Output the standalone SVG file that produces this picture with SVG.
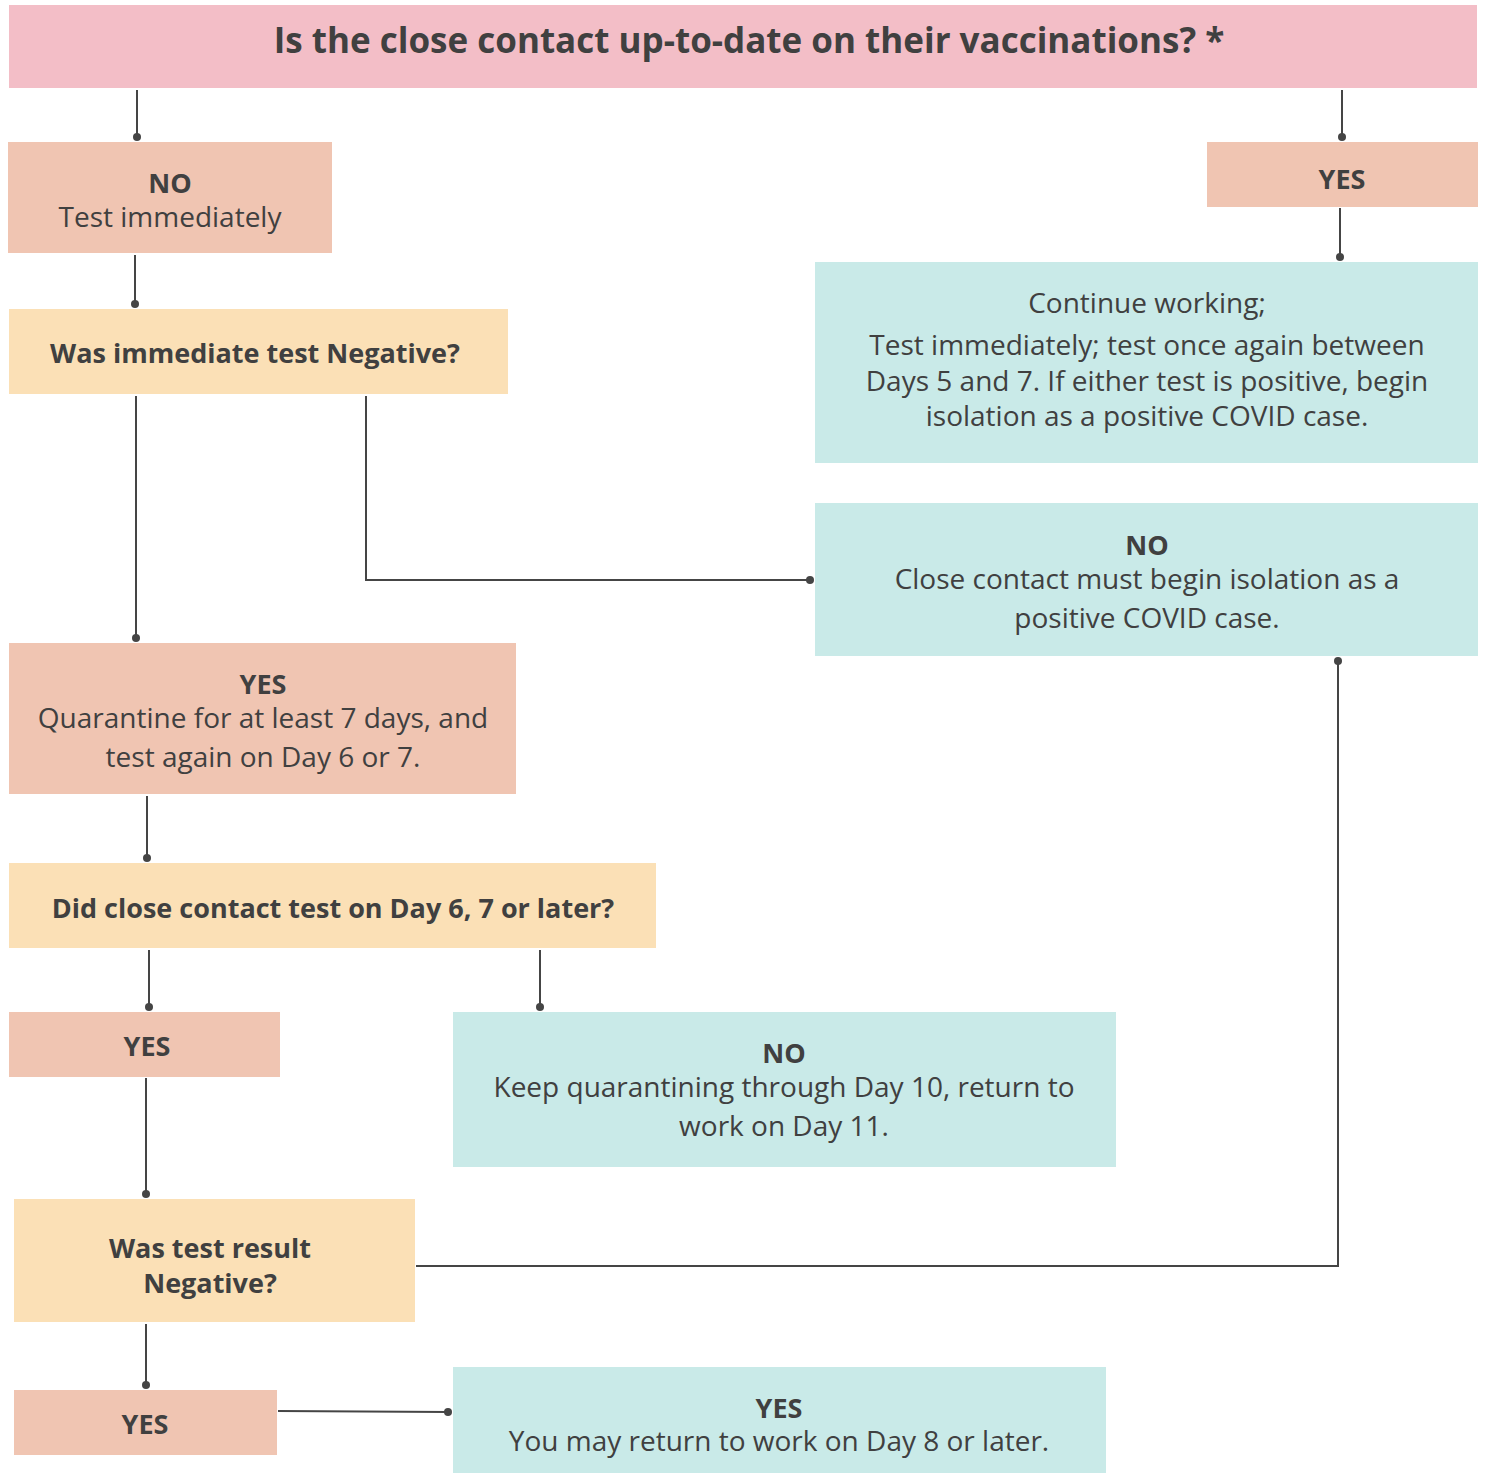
<svg xmlns="http://www.w3.org/2000/svg" width="1485" height="1474" viewBox="0 0 1485 1474">
<style>
.pink{fill:#F3BEC7}
.salmon{fill:#F0C5B2}
.sand{fill:#FBE0B6}
.teal{fill:#C9EAE8}
text{font-family:"Open Sans","Noto Sans",sans-serif;fill:#404040;text-anchor:middle}
.t{font-size:28px}
.b{font-size:27px;font-weight:bold}
.h{font-size:35px;font-weight:bold}
.c{fill:none;stroke:#454545;stroke-width:2}
</style>
<defs>
<marker id="dot" viewBox="0 0 10 10" refX="5" refY="5" markerWidth="10" markerHeight="10" markerUnits="userSpaceOnUse">
<circle cx="5" cy="5" r="4" fill="#454545"/>
</marker>
</defs>
<rect width="1485" height="1474" fill="#fff"/>
<g id="connectors">
<path class="c" d="M137 90V137" marker-end="url(#dot)"/>
<path class="c" d="M1342 90V137" marker-end="url(#dot)"/>
<path class="c" d="M135 255V304" marker-end="url(#dot)"/>
<path class="c" d="M1340 208V257" marker-end="url(#dot)"/>
<path class="c" d="M136 396V638" marker-end="url(#dot)"/>
<path class="c" d="M366 396V580H810" marker-end="url(#dot)"/>
<path class="c" d="M147 796V858" marker-end="url(#dot)"/>
<path class="c" d="M149 950V1007" marker-end="url(#dot)"/>
<path class="c" d="M540 950V1007" marker-end="url(#dot)"/>
<path class="c" d="M146 1078V1194" marker-end="url(#dot)"/>
<path class="c" d="M416 1266H1338V661" marker-end="url(#dot)"/>
<path class="c" d="M146 1324V1385" marker-end="url(#dot)"/>
<path class="c" d="M278 1411L448 1412" marker-end="url(#dot)"/>
</g>
<g id="n-header">
<rect class="pink" x="9" y="5" width="1468" height="83"/>
<text class="h" x="749" y="53">Is the close contact up-to-date on their vaccinations? *</text>
</g>
<g id="n-no-test">
<rect class="salmon" x="8" y="142" width="324" height="111"/>
<text class="b" x="170" y="193">NO</text>
<text class="t" x="170" y="227">Test immediately</text>
</g>
<g id="n-yes-top">
<rect class="salmon" x="1207" y="142" width="271" height="65"/>
<text class="b" x="1342" y="189">YES</text>
</g>
<g id="n-continue">
<rect class="teal" x="815" y="262" width="663" height="201"/>
<text class="t" x="1147" y="313">Continue working;</text>
<text class="t" x="1147" y="355">Test immediately; test once again between</text>
<text class="t" x="1147" y="391">Days 5 and 7. If either test is positive, begin</text>
<text class="t" x="1147" y="426">isolation as a positive COVID case.</text>
</g>
<g id="n-immediate">
<rect class="sand" x="9" y="309" width="499" height="85"/>
<text class="b" x="255" y="363">Was immediate test Negative?</text>
</g>
<g id="n-no-isolate">
<rect class="teal" x="815" y="503" width="663" height="153"/>
<text class="b" x="1147" y="555">NO</text>
<text class="t" x="1147" y="589">Close contact must begin isolation as a</text>
<text class="t" x="1147" y="628">positive COVID case.</text>
</g>
<g id="n-quarantine">
<rect class="salmon" x="9" y="643" width="507" height="151"/>
<text class="b" x="263" y="694">YES</text>
<text class="t" x="263" y="728">Quarantine for at least 7 days, and</text>
<text class="t" x="263" y="767">test again on Day 6 or 7.</text>
</g>
<g id="n-day67">
<rect class="sand" x="9" y="863" width="647" height="85"/>
<text class="b" x="333" y="918">Did close contact test on Day 6, 7 or later?</text>
</g>
<g id="n-yes-day67">
<rect class="salmon" x="9" y="1012" width="271" height="65"/>
<text class="b" x="147" y="1056">YES</text>
</g>
<g id="n-no-day10">
<rect class="teal" x="453" y="1012" width="663" height="155"/>
<text class="b" x="784" y="1063">NO</text>
<text class="t" x="784" y="1097">Keep quarantining through Day 10, return to</text>
<text class="t" x="784" y="1136">work on Day 11.</text>
</g>
<g id="n-result">
<rect class="sand" x="14" y="1199" width="401" height="123"/>
<text class="b" x="210" y="1258">Was test result</text>
<text class="b" x="210" y="1293">Negative?</text>
</g>
<g id="n-yes-result">
<rect class="salmon" x="14" y="1390" width="263" height="65"/>
<text class="b" x="145" y="1434">YES</text>
</g>
<g id="n-return">
<rect class="teal" x="453" y="1367" width="653" height="106"/>
<text class="b" x="779" y="1418">YES</text>
<text class="t" x="779" y="1451">You may return to work on Day 8 or later.</text>
</g>
</svg>
